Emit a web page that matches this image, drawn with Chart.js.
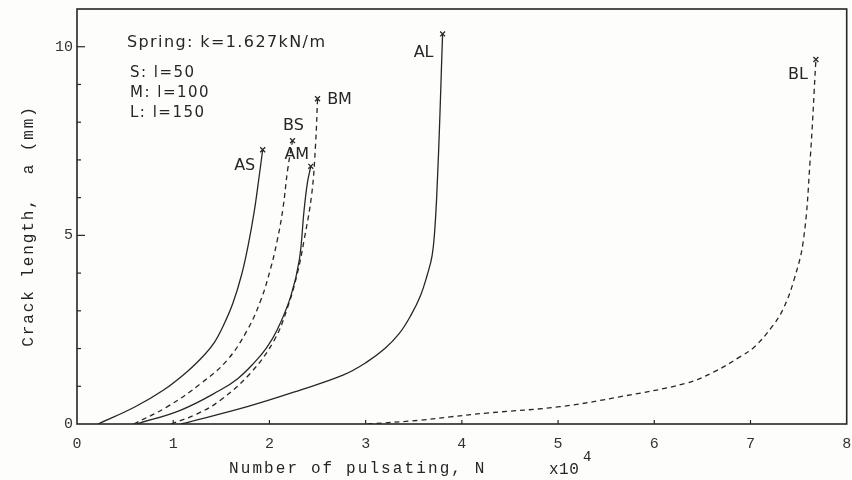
<!DOCTYPE html>
<html>
<head>
<meta charset="utf-8">
<script src="https://cdn.jsdelivr.net/npm/chart.js@4"></script>
<style>
  html, body { margin: 0; padding: 0; background: #fdfdfc; }
  #wrap { width: 852px; height: 480px; }
</style>
</head>
<body>
<div id="wrap"><canvas id="crackChart" width="852" height="480"></canvas></div>
<script>
// curve names
const curveNames = ['AS', 'BS', 'AM', 'BM', 'AL', 'BL'];

// N (x10^4) and crack length a (mm)
const asN = [0.22, 0.6, 0.9, 1.15, 1.33, 1.43, 1.52, 1.62, 1.71, 1.78, 1.84, 1.89, 1.93];
const asA = [0, 0.45, 0.9, 1.4, 1.85, 2.17, 2.6, 3.2, 3.95, 4.75, 5.6, 6.5, 7.27];

const bsN = [0.59, 0.94, 1.29, 1.56, 1.77, 1.91, 2.01, 2.08, 2.14, 2.19, 2.24];
const bsA = [0, 0.46, 1.08, 1.69, 2.49, 3.28, 4.1, 4.85, 5.7, 6.75, 7.51];

const amN = [0.62, 1.08, 1.49, 1.67, 1.84, 1.97, 2.08, 2.22, 2.31, 2.36, 2.395, 2.43];
const amA = [0, 0.37, 0.9, 1.2, 1.62, 2.02, 2.49, 3.37, 4.34, 5.66, 6.4, 6.83];

const bmN = [0.98, 1.25, 1.49, 1.80, 2.05, 2.19, 2.29, 2.36, 2.44, 2.48, 2.50];
const bmA = [0, 0.27, 0.63, 1.34, 2.22, 3.10, 3.99, 4.87, 6.1, 7.43, 8.62];

const alN = [1.08, 1.77, 2.32, 2.77, 3.0, 3.2, 3.35, 3.47, 3.57, 3.64, 3.69, 3.72, 3.745, 3.77, 3.79, 3.80];
const alA = [0, 0.46, 0.9, 1.3, 1.62, 2.0, 2.4, 2.88, 3.4, 3.95, 4.45, 5.2, 6.4, 8.04, 9.6, 10.34];

const blN = [3.02, 3.57, 3.88, 4.26, 5.02, 5.64, 6.33, 6.62, 6.89, 7.04, 7.23, 7.34, 7.45, 7.55, 7.62, 7.68];
const blA = [0, 0.1, 0.19, 0.29, 0.46, 0.72, 1.08, 1.38, 1.78, 2.04, 2.6, 3.05, 3.8, 4.87, 7.0, 9.66];

// axis ticks
const xTicks = [0, 1, 2, 3, 4, 5, 6, 7, 8];
const yTickLabels = [0, 5, 10];

// notes in the upper left
const springNote = 'Spring: k=1.627kN/m';
const sizeNotes = ['S: l=50', 'M: l=100', 'L: l=150'];

const xTitle = 'Number of pulsating, N';
const yTitle = 'Crack length,  a (mm)';

const ink = '#262626';

function pts(n, a) {
    return n.map((v, i) => ({ x: v, y: a[i] }));
}

// style per curve: dash and where the name sits next to the end mark
const curves = [
    { n: asN, a: asA, dash: [],     dx: -18, dy: 16 },
    { n: bsN, a: bsA, dash: [5, 4], dx: 1,   dy: -15 },
    { n: amN, a: amA, dash: [],     dx: -14, dy: -11 },
    { n: bmN, a: bmA, dash: [5, 4], dx: 22,  dy: 1 },
    { n: alN, a: alA, dash: [],     dx: -19, dy: 19 },
    { n: blN, a: blA, dash: [5, 4], dx: -18, dy: 15 }
];

const datasets = curves.map((c, i) => ({
    label: curveNames[i],
    data: pts(c.n, c.a),
    showLine: true,
    borderColor: ink,
    borderWidth: 1.3,
    borderDash: c.dash,
    tension: 0.4,
    pointStyle: 'crossRot',
    pointRadius: ctx => ctx.dataIndex === c.n.length - 1 ? 3.5 : 0,
    pointBorderColor: ink,
    pointBorderWidth: 1.3,
    labelDx: c.dx,
    labelDy: c.dy
}));

const framePlugin = {
    id: 'frame',
    afterDraw(chart) {
        const ctx = chart.ctx;
        const area = chart.chartArea;
        const xs = chart.scales.x;
        const ys = chart.scales.y;
        ctx.save();
        ctx.strokeStyle = ink;
        ctx.lineWidth = 1.6;
        ctx.setLineDash([]);
        ctx.strokeRect(area.left, area.top, area.right - area.left, area.bottom - area.top);

        // inward ticks
        ctx.lineWidth = 1.2;
        ys.ticks.forEach(t => {
            if (t.value <= 0 || t.value > 10) return;
            const py = ys.getPixelForValue(t.value);
            const len = t.value % 5 === 0 ? 8 : 4;
            ctx.beginPath();
            ctx.moveTo(area.left, py);
            ctx.lineTo(area.left + len, py);
            ctx.stroke();
        });
        xs.ticks.forEach(t => {
            if (t.value <= 0 || t.value >= 8) return;
            const px = xs.getPixelForValue(t.value);
            ctx.beginPath();
            ctx.moveTo(px, area.bottom);
            ctx.lineTo(px, area.bottom - 4);
            ctx.stroke();
        });

        // curve names next to the end marks
        ctx.fillStyle = ink;
        ctx.font = '16px "DejaVu Sans"';
        ctx.textAlign = 'center';
        ctx.textBaseline = 'middle';
        chart.data.datasets.forEach(ds => {
            const last = ds.data[ds.data.length - 1];
            const px = xs.getPixelForValue(last.x) + ds.labelDx;
            const py = ys.getPixelForValue(last.y) + ds.labelDy;
            ctx.fillText(ds.label, px, py);
        });

        // notes
        ctx.textAlign = 'left';
        ctx.font = '16px "DejaVu Sans"';
        ctx.letterSpacing = '1.4px';
        ctx.fillText(springNote, 127, 43);
        ctx.font = '15px "DejaVu Sans"';
        ctx.letterSpacing = '1.5px';
        sizeNotes.forEach((s, i) => ctx.fillText(s, 130, 73 + i * 20));

        // axis titles
        ctx.font = '16px "Liberation Mono"';
        ctx.letterSpacing = '2.1px';
        ctx.fillText(xTitle, 229, 469);
        ctx.letterSpacing = '0.5px';
        ctx.fillText('x10', 549, 470);
        ctx.font = '14px "Liberation Mono"';
        ctx.fillText('4', 583, 457);

        ctx.font = '16px "Liberation Mono"';
        ctx.letterSpacing = '1.9px';
        ctx.translate(29, 226);
        ctx.rotate(-Math.PI / 2);
        ctx.textAlign = 'center';
        ctx.fillText(yTitle, 0, 0);
        ctx.restore();
    }
};

function noOverflow(s) {
    s.paddingTop = 0;
    s.paddingBottom = 0;
    s.paddingLeft = 0;
    s.paddingRight = 0;
}

new Chart(document.getElementById('crackChart'), {
    type: 'scatter',
    data: { datasets: datasets },
    options: {
        responsive: false,
        animation: false,
        layout: { padding: { top: 9, right: 5, left: 0, bottom: 0 } },
        plugins: {
            legend: { display: false },
            tooltip: { enabled: false }
        },
        scales: {
            x: {
                type: 'linear',
                min: 0,
                max: 8,
                afterFit: s => { s.height = 56; noOverflow(s); },
                afterBuildTicks: s => { s.ticks = xTicks.map(v => ({ value: v })); },
                grid: { display: false, tickLength: 0 },
                border: { display: false },
                ticks: {
                    color: '#333',
                    padding: 11,
                    font: { family: 'Liberation Mono', size: 15 }
                }
            },
            y: {
                type: 'linear',
                min: 0,
                max: 11,
                afterFit: s => { s.width = 77; noOverflow(s); },
                grid: { display: false, tickLength: 0 },
                border: { display: false },
                ticks: {
                    stepSize: 1,
                    autoSkip: false,
                    color: '#333',
                    padding: 4,
                    font: { family: 'Liberation Mono', size: 15 },
                    callback: v => yTickLabels.includes(v) ? String(v) : ''
                }
            }
        }
    },
    plugins: [framePlugin]
});
</script>
</body>
</html>
